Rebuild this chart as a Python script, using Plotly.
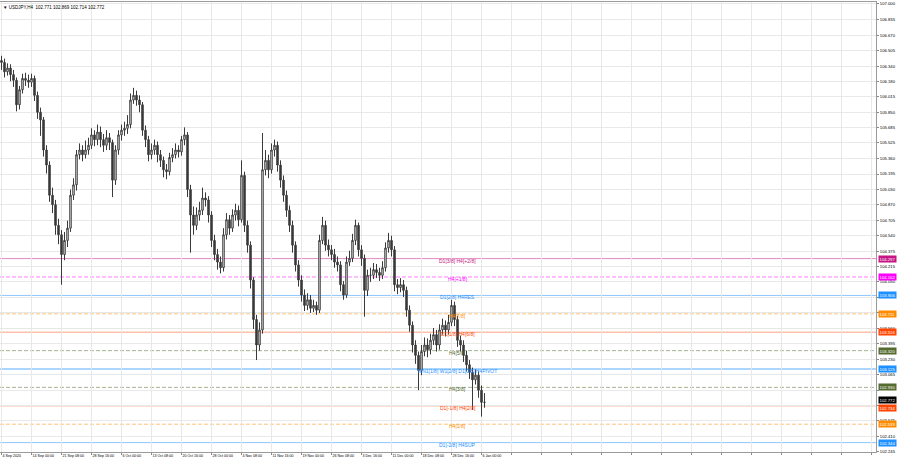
import plotly.graph_objects as go

# ---------------- data (H4 USDJPY, one mark ~ 3 px) ----------------
opens = [
106.40, 106.38, 106.28, 106.32, 106.25, 106.19, 105.93, 106.09, 106.21, 106.19,
106.17, 106.21, 106.03, 105.85, 105.77, 105.45, 105.29, 104.97, 104.87, 104.65,
104.55, 104.34, 104.49, 104.62, 104.97, 105.08, 105.40, 105.45, 105.40, 105.45,
105.50, 105.61, 105.56, 105.64, 105.56, 105.50, 105.58, 105.53, 105.13, 105.45,
105.61, 105.66, 105.68, 105.72, 105.98, 106.03, 105.98, 105.93, 105.66, 105.56,
105.40, 105.45, 105.50, 105.40, 105.34, 105.24, 105.22, 105.37, 105.40, 105.45,
105.43, 105.56, 105.61, 105.03, 104.76, 104.65, 104.76, 104.81, 104.94, 104.92,
104.76, 104.49, 104.34, 104.26, 104.20, 104.55, 104.71, 104.62, 104.76, 104.81,
104.71, 105.18, 104.65, 104.44, 104.07, 103.65, 103.38, 103.54, 105.24, 105.34,
105.24, 105.45, 105.50, 105.29, 105.13, 104.97, 104.81, 104.65, 104.44, 104.23,
104.07, 103.91, 103.80, 103.86, 103.77, 103.80, 103.75, 104.49, 104.65, 104.44,
104.39, 104.34, 104.26, 104.23, 104.02, 103.91, 104.26, 104.30, 104.49, 104.65,
104.39, 104.30, 103.96, 104.12, 104.12, 104.18, 104.15, 104.12, 104.20, 104.41,
104.49, 104.39, 104.02, 103.99, 104.02, 103.96, 103.75, 103.59, 103.38, 103.27,
103.11, 103.31, 103.38, 103.33, 103.43, 103.49, 103.38, 103.54, 103.59, 103.54,
103.62, 103.80, 103.65, 103.43, 103.38, 103.27, 103.17, 103.09, 103.01, 103.06,
102.90, 102.771]

highs = [
106.45, 106.42, 106.37, 106.36, 106.30, 106.22, 106.13, 106.26, 106.27, 106.25,
106.26, 106.24, 106.07, 105.90, 105.80, 105.50, 105.33, 105.05, 104.92, 104.72,
104.60, 104.58, 104.70, 105.03, 105.15, 105.45, 105.52, 105.50, 105.55, 105.58,
105.68, 105.66, 105.72, 105.70, 105.62, 105.66, 105.63, 105.56, 105.50, 105.66,
105.72, 105.75, 105.82, 106.05, 106.11, 106.08, 106.03, 105.96, 105.71, 105.60,
105.52, 105.56, 105.54, 105.45, 105.38, 105.30, 105.42, 105.47, 105.52, 105.50,
105.60, 105.69, 105.64, 105.08, 104.85, 104.84, 104.90, 105.05, 105.00, 104.96,
104.80, 104.55, 104.40, 104.32, 104.62, 104.78, 104.76, 104.82, 104.88, 104.86,
105.34, 105.22, 104.70, 104.48, 104.10, 103.70, 103.62, 105.63, 105.45, 105.40,
105.52, 105.56, 105.54, 105.34, 105.18, 105.02, 104.86, 104.70, 104.48, 104.28,
104.12, 103.97, 103.93, 103.91, 103.86, 103.84, 104.55, 104.74, 104.70, 104.50,
104.44, 104.40, 104.32, 104.27, 104.06, 104.32, 104.38, 104.56, 104.71, 104.68,
104.44, 104.34, 104.18, 104.20, 104.25, 104.24, 104.20, 104.27, 104.47, 104.57,
104.54, 104.43, 104.08, 104.09, 104.07, 104.00, 103.80, 103.63, 103.43, 103.31,
103.38, 103.46, 103.45, 103.50, 103.56, 103.54, 103.60, 103.66, 103.64, 103.70,
103.86, 103.84, 103.69, 103.48, 103.43, 103.32, 103.22, 103.14, 103.12, 103.10,
102.95, 102.869]

lows = [
106.30, 106.22, 106.24, 106.18, 106.12, 105.86, 105.88, 106.05, 106.13, 106.11,
106.12, 105.97, 105.78, 105.60, 105.38, 105.20, 104.90, 104.78, 104.55, 104.45,
104.02, 104.28, 104.42, 104.58, 104.92, 105.02, 105.35, 105.33, 105.36, 105.40,
105.46, 105.49, 105.50, 105.48, 105.43, 105.45, 105.45, 104.95, 105.08, 105.40,
105.55, 105.60, 105.62, 105.68, 105.94, 105.92, 105.85, 105.60, 105.48, 105.33,
105.35, 105.40, 105.32, 105.27, 105.16, 105.14, 105.18, 105.32, 105.36, 105.37,
105.39, 105.50, 104.95, 104.36, 104.55, 104.60, 104.70, 104.76, 104.85, 104.68,
104.42, 104.28, 104.18, 104.14, 104.16, 104.50, 104.55, 104.58, 104.70, 104.64,
104.68, 104.58, 104.36, 103.98, 103.55, 103.22, 103.32, 103.50, 105.18, 105.15,
105.20, 105.38, 105.22, 105.05, 104.90, 104.74, 104.58, 104.36, 104.16, 104.00,
103.84, 103.74, 103.75, 103.72, 103.73, 103.70, 103.72, 104.45, 104.38, 104.32,
104.28, 104.20, 104.16, 103.95, 103.86, 103.88, 104.22, 104.26, 104.44, 104.32,
104.22, 103.68, 103.90, 104.05, 104.08, 104.09, 104.06, 104.08, 104.16, 104.36,
104.32, 103.95, 103.92, 103.94, 103.89, 103.68, 103.52, 103.30, 103.18, 102.90,
103.06, 103.26, 103.25, 103.28, 103.38, 103.31, 103.33, 103.49, 103.47, 103.49,
103.58, 103.58, 103.36, 103.31, 103.20, 103.10, 103.02, 102.69, 102.96, 102.82,
102.62, 102.714]

closes = [
106.38, 106.28, 106.32, 106.25, 106.19, 105.93, 106.09, 106.21, 106.19, 106.17,
106.21, 106.03, 105.85, 105.77, 105.45, 105.29, 104.97, 104.87, 104.65, 104.55,
104.34, 104.49, 104.62, 104.97, 105.08, 105.40, 105.45, 105.40, 105.45, 105.50,
105.61, 105.56, 105.64, 105.56, 105.50, 105.58, 105.53, 105.13, 105.45, 105.61,
105.66, 105.68, 105.72, 105.98, 106.03, 105.98, 105.93, 105.66, 105.56, 105.40,
105.45, 105.50, 105.40, 105.34, 105.24, 105.22, 105.37, 105.40, 105.45, 105.43,
105.56, 105.61, 105.03, 104.76, 104.65, 104.76, 104.81, 104.94, 104.92, 104.76,
104.49, 104.34, 104.26, 104.20, 104.55, 104.71, 104.62, 104.76, 104.81, 104.71,
105.18, 104.65, 104.44, 104.07, 103.65, 103.38, 103.54, 105.24, 105.34, 105.24,
105.45, 105.50, 105.29, 105.13, 104.97, 104.81, 104.65, 104.44, 104.23, 104.07,
103.91, 103.80, 103.86, 103.77, 103.80, 103.75, 104.49, 104.65, 104.44, 104.39,
104.34, 104.26, 104.23, 104.02, 103.91, 104.26, 104.30, 104.49, 104.65, 104.39,
104.30, 103.96, 104.12, 104.12, 104.18, 104.15, 104.12, 104.20, 104.41, 104.49,
104.39, 104.02, 103.99, 104.02, 103.96, 103.75, 103.59, 103.38, 103.27, 103.11,
103.31, 103.38, 103.33, 103.43, 103.49, 103.38, 103.54, 103.59, 103.54, 103.62,
103.80, 103.65, 103.43, 103.38, 103.27, 103.17, 103.09, 103.01, 103.06, 102.90,
102.771, 102.772]

time_labels = ["4 Sep 2020", "14 Sep 00:00", "21 Sep 08:00", "28 Sep 16:00", "6 Oct 00:00",
               "13 Oct 08:00", "20 Oct 16:00", "28 Oct 00:00", "4 Nov 08:00", "11 Nov 16:00",
               "19 Nov 00:00", "26 Nov 08:00", "3 Dec 16:00", "11 Dec 00:00", "18 Dec 08:00",
               "28 Dec 16:00", "6 Jan 00:00"]

price_ticks = [107.000, 106.835, 106.670, 106.505, 106.340, 106.180, 106.015, 105.850,
               105.685, 105.525, 105.360, 105.195, 105.030, 104.870, 104.705, 104.540,
               104.375, 104.215, 104.050, 103.885, 103.720, 103.560, 103.395, 103.230,
               103.065, 102.900, 102.735, 102.575, 102.410, 102.245]
# tick labels that sit under a level price box in the reference
hidden_ticks = [103.885, 103.720, 102.900, 102.735]

level_prices = [104.297, 104.102, 103.906, 103.711, 103.516, 103.320,
                103.125, 102.930, 102.734, 102.539, 102.344]
level_names = ["D1[3/8] H4[+2/8]", "H4[+1/8]", "D1[2/8] H4RES", "H4[7/8]",
               "D1[1/8] H4[6/8]", "H4[5/8]", "MN1[1/8] W1[2/8] D1[0/8] H4PIVOT",
               "H4[3/8]", "D1[-1/8] H4[2/8]", "H4[1/8]", "D1[-2/8] H4SUP"]
current_price = 102.772
title_text = "USDJPY,H4  102.771 102.869 102.714 102.772"

# ---------------- styles ----------------
level_colors = ["#C71585", "#FF00FF", "#1E90FF", "#FF8C00", "#FF4500", "#556B2F",
                "#1E90FF", "#556B2F", "#FF4500", "#FF8C00", "#1E90FF"]
level_dash = ["solid", "4px,2px", "solid", "4px,2px", "solid", "4px,2px",
              "solid", "4px,2px", "solid", "4px,2px", "solid"]
level_width = [1, 1, 1, 1, 1, 1, 1.6, 1, 1, 1, 1]
level_box_shift = [0, 0, 0, 0, 0, 0, 0, 0, -2, 0, 0]
FONT = "Liberation Sans"

n = len(closes)
xs = list(range(n))

fig = go.Figure()
fig.add_trace(go.Candlestick(
    x=xs, open=opens, high=highs, low=lows, close=closes,
    increasing=dict(line=dict(color="#3a3a3a", width=1), fillcolor="#ffffff"),
    decreasing=dict(line=dict(color="#3a3a3a", width=1), fillcolor="#3a3a3a"),
    whiskerwidth=0, hoverinfo="skip", showlegend=False,
))

shapes = []
annotations = []
for p, name, c, d, w, bs in zip(level_prices, level_names, level_colors, level_dash,
                                level_width, level_box_shift):
    shapes.append(dict(type="line", xref="paper", x0=0, x1=1, yref="y", y0=p, y1=p,
                       line=dict(color=c, width=w, dash=d), opacity=0.5, layer="below"))
    annotations.append(dict(x=152, y=p, xref="x", yref="y", text=name, showarrow=False,
                            yshift=-2, font=dict(family=FONT, size=5, color=c),
                            xanchor="center", yanchor="middle"))
    annotations.append(dict(x=1, y=p, xref="paper", yref="y", text=f"{p:.3f}", showarrow=False,
                            xanchor="left", yanchor="middle", xshift=2, yshift=bs, bgcolor=c,
                            borderpad=0.6, font=dict(family=FONT, size=4.2, color="white")))

annotations.append(dict(x=1, y=current_price, xref="paper", yref="y", text=f"{current_price:.3f}",
                        showarrow=False, xanchor="left", yanchor="middle", xshift=2, yshift=2,
                        bgcolor="#000000", borderpad=0.6,
                        font=dict(family=FONT, size=4.2, color="white")))
annotations.append(dict(x=0, y=1, xref="paper", yref="paper", text="\u25BC " + title_text,
                        showarrow=False, xanchor="left", yanchor="top", xshift=1, yshift=-1,
                        font=dict(family=FONT, size=4.5, color="black")))

x_tickvals = list(range(0, 300, 10))
x_ticktext = time_labels + [""] * (len(x_tickvals) - len(time_labels))
y_ticktext = ["" if v in hidden_ticks else f"{v:.3f}" for v in price_ticks]

fig.update_layout(
    width=900, height=468,
    margin=dict(l=0, r=24, t=2, b=16, autoexpand=False),
    paper_bgcolor="white", plot_bgcolor="white",
    shapes=shapes, annotations=annotations,
    showlegend=False,
    xaxis=dict(range=[-0.5, 291.5], rangeslider=dict(visible=False),
               tickvals=x_tickvals, ticktext=x_ticktext, tickangle=0,
               ticklabelposition="outside right", automargin=False,
               tickfont=dict(family=FONT, size=3.6, color="black"),
               ticks="outside", ticklen=2, tickcolor="#888",
               showgrid=True, gridcolor="#e8e8e8", gridwidth=1,
               showline=True, linecolor="#9a9a9a", mirror=True, zeroline=False),
    yaxis=dict(range=[102.244, 107.021], side="right", automargin=False,
               tickvals=price_ticks, ticktext=y_ticktext,
               tickangle=0,
               tickfont=dict(family=FONT, size=4.2, color="black"),
               ticks="outside", ticklen=2, tickcolor="#888",
               showgrid=True, gridcolor="#e8e8e8", gridwidth=1,
               showline=True, linecolor="#9a9a9a", mirror=True, zeroline=False),
)

fig.write_html("out.html", config={"displayModeBar": False},
               post_script="document.body.style.margin='0';document.body.style.overflow='hidden';")
